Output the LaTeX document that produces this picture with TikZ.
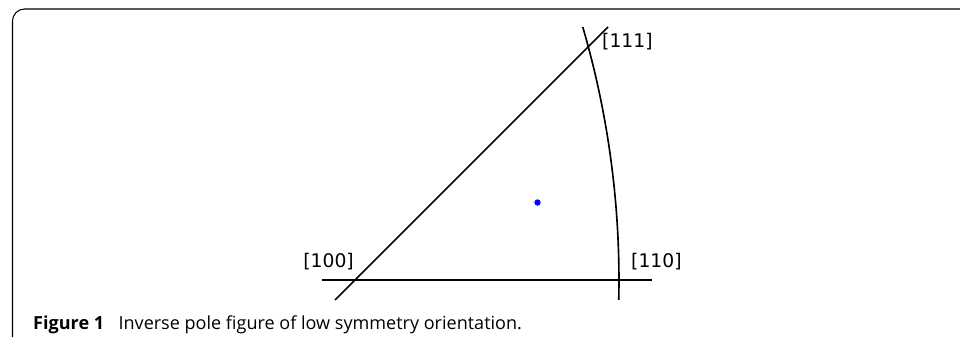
\documentclass[tikz,border=0pt]{standalone}
\usepackage{fontspec}
\setmainfont{Open Sans}
\newfontfamily\plotfont{DejaVu Sans}
\usetikzlibrary{positioning,calc}
\definecolor{poleblue}{HTML}{0000FF}

\begin{document}
\begin{tikzpicture}[
    x=0.3mm, y=0.3mm,
    axisline/.style={line width=1.4pt, black},
    framebox/.style={line width=0.9pt, black, rounded corners=3.6mm},
    polelabel/.style={font=\plotfont\fontsize{16}{18}\selectfont, inner sep=0pt},
    orientdot/.style={circle, fill=poleblue, inner sep=0pt, minimum size=1.9mm},
    captext/.style={anchor=base west, inner sep=0pt, font=\fontsize{15.4}{17}\selectfont}
  ]
  \useasboundingbox (0,0) rectangle (960,337);

  % === Frame ===
  \draw[framebox] (12.5,0) |- (960,328);

  % === Poles of the standard triangle ===
  \coordinate (p100) at (355,57);
  \coordinate (arccen) at (-283,57);
  \coordinate (hleft) at (322,57);
  \coordinate (hright) at (652,57);
  \coordinate (dlow) at (335,37);
  \coordinate (dhigh) at (608,310);
  \coordinate (arcbot) at ($(arccen)+(-1.27:902)$);

  % edges
  \draw[axisline] (hleft) -- (hright);
  \draw[axisline] (dlow) -- (dhigh);
  \draw[axisline] (arcbot) arc[start angle=-1.27, end angle=16.29, radius=902];

  % labels
  \node[polelabel, anchor=east] (l100) at (354,75) {[100]};
  \node[polelabel, anchor=west] (l110) at (631,75) {[110]};
  \node[polelabel, anchor=west] (l111) at (602,295) {[111]};

  % orientation
  \node[orientdot] (ori) at (537.5,134.5) {};

  % === Caption ===
  \node[captext] (cap) at (33,8) {\textbf{Figure 1}\hspace{0.8em}Inverse pole figure of low symmetry orientation.};
\end{tikzpicture}
\end{document}
